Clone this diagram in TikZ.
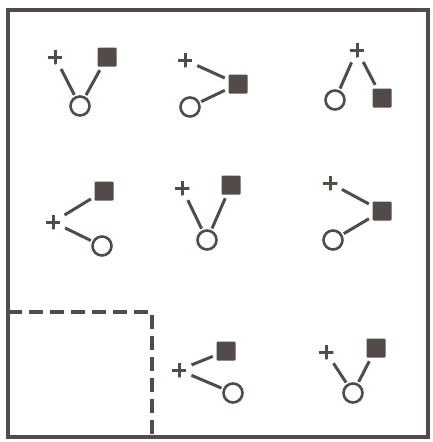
\documentclass[tikz,border=0pt]{standalone}
\usepackage{tikz}
\usetikzlibrary{positioning}

\definecolor{ink}{HTML}{524B49}

\begin{document}
\begin{tikzpicture}[
    x=1pt, y=-1pt,
    sq/.style={rectangle, fill=ink, rounded corners=1pt, minimum size=19pt, inner sep=0pt, outer sep=1pt},
    ring/.style={circle, draw=ink, line width=2.6pt, minimum size=19pt, inner sep=0pt, outer sep=0pt},
    plus/.style={circle, minimum size=15pt, inner sep=0pt, outer sep=3pt,
        path picture={\draw[ink, line width=3pt]
            (path picture bounding box.west) -- (path picture bounding box.east)
            (path picture bounding box.north) -- (path picture bounding box.south);}},
    bond/.style={draw=ink, line width=3pt, shorten <=3pt, shorten >=3pt},
    frame/.style={draw=ink, line width=4pt},
    dashframe/.style={draw=ink, line width=3.2pt, dash pattern=on 14pt off 7pt}
]
\useasboundingbox (0,0) rectangle (432,442);

% Outer frame
\draw[frame] (8,10) rectangle (428,437);

% Dashed corner
\coordinate (d1) at (8,312);
\coordinate (d2) at (152,312);
\coordinate (d3) at (152,437);
\draw[dashframe] (d1) -- (d2) -- (d3);

% Row 1
\node[plus] (p1) at (55,57) {};
\node[sq] (s1) at (107,57) {};
\node[ring] (c1) at (80,106) {};
\draw[bond] (p1) -- (c1);
\draw[bond] (s1) -- (c1);

\node[plus] (p2) at (185,60) {};
\node[sq] (s2) at (238,84) {};
\node[ring] (c2) at (190,107) {};
\draw[bond] (p2) -- (s2);
\draw[bond] (c2) -- (s2);

\node[plus] (p3) at (357,50) {};
\node[sq] (s3) at (382,98) {};
\node[ring] (c3) at (335,100) {};
\draw[bond] (p3) -- (c3);
\draw[bond] (p3) -- (s3);

% Row 2
\node[plus] (p4) at (53,222) {};
\node[sq] (s4) at (104,191) {};
\node[ring] (c4) at (102,246) {};
\draw[bond] (p4) -- (s4);
\draw[bond] (p4) -- (c4);

\node[plus] (p5) at (182,188) {};
\node[sq] (s5) at (231,185) {};
\node[ring] (c5) at (207,240) {};
\draw[bond] (p5) -- (c5);
\draw[bond] (s5) -- (c5);

\node[plus] (p6) at (330,183) {};
\node[sq] (s6) at (382,211) {};
\node[ring] (c6) at (333,240) {};
\draw[bond] (p6) -- (s6);
\draw[bond] (c6) -- (s6);

% Row 3
\node[plus] (p7) at (179,370) {};
\node[sq] (s7) at (226,351) {};
\node[ring] (c7) at (233,393) {};
\draw[bond] (p7) -- (s7);
\draw[bond] (p7) -- (c7);

\node[plus] (p8) at (326,352) {};
\node[sq] (s8) at (376,348) {};
\node[ring] (c8) at (353,393) {};
\draw[bond] (p8) -- (c8);
\draw[bond] (s8) -- (c8);

\end{tikzpicture}
\end{document}
